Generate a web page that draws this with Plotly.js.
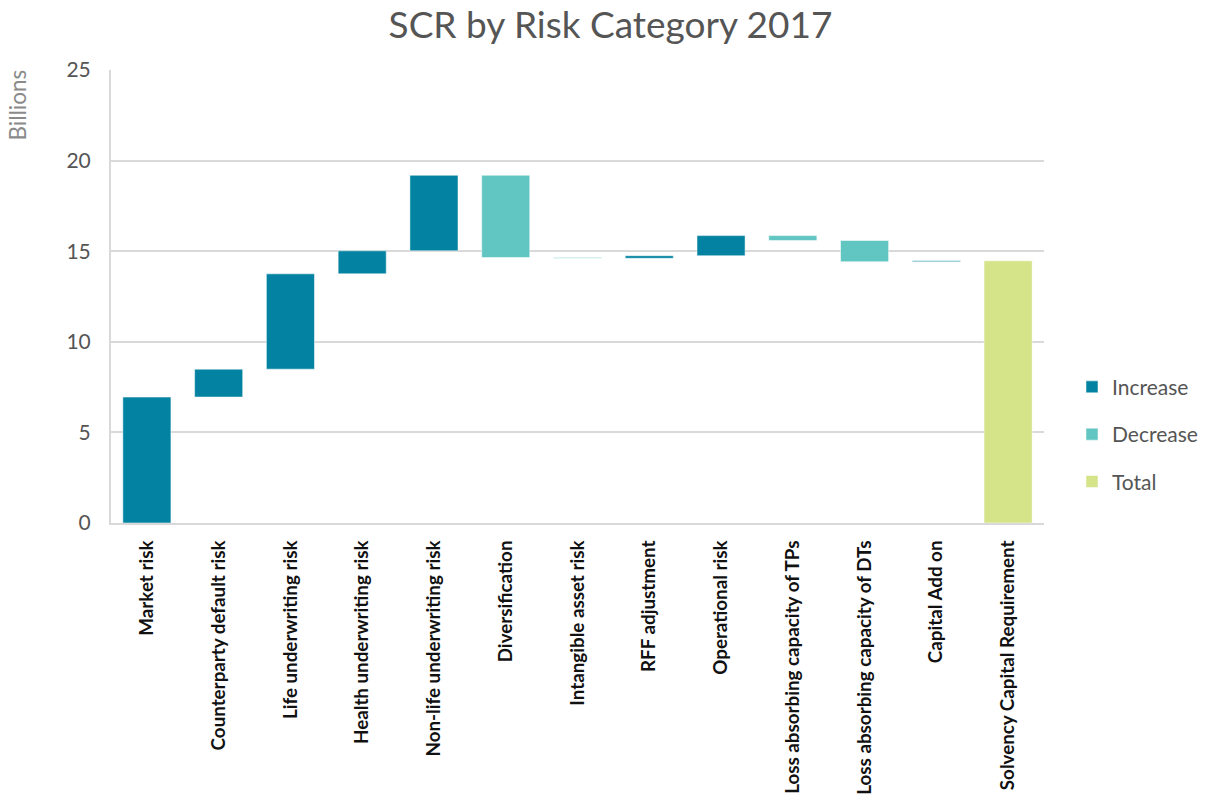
<!DOCTYPE html>
<html>
<head>
<meta charset="utf-8">
<script src="https://cdn.plot.ly/plotly-3.0.1.min.js"></script>
<style>html,body{margin:0;padding:0;background:#fff;}#chart{width:1221px;height:797px;}</style>
</head>
<body>
<div id="chart"></div>
<script>
const categories = ["Market risk","Counterparty default risk","Life underwriting risk","Health underwriting risk","Non-life underwriting risk","Diversification","Intangible asset risk","RFF adjustment","Operational risk","Loss absorbing capacity of TPs","Loss absorbing capacity of DTs","Capital Add on","Solvency Capital Requirement"];
const changes = [6.95, 1.54, 5.26, 1.27, 4.17, -4.54, -0.04, 0.14, 1.11, -0.27, -1.17, 0.05];
const totalLabel = "Solvency Capital Requirement";

// Build cumulative bases from the data
let run = 0;
const incX = [], incY = [], incBase = [];
const decX = [], decY = [], decBase = [];
changes.forEach((v, i) => {
  if (v >= 0) { incX.push(categories[i]); incY.push(v); incBase.push(run); }
  else { decX.push(categories[i]); decY.push(-v); decBase.push(run + v); }
  run += v;
});
const totalValue = [run];

const edge = {color: 'rgba(255,255,255,0.5)', width: 1};
const traces = [
  {type: 'bar', name: 'Increase', x: incX, y: incY, base: incBase, legendgroup: 'a', marker: {color: '#0383a1', line: edge}},
  {type: 'bar', name: 'Decrease', x: decX, y: decY, base: decBase, legendgroup: 'b', marker: {color: '#61c6c1', line: edge}},
  {type: 'bar', name: 'Total', x: [totalLabel], y: totalValue, base: [0], legendgroup: 'c', marker: {color: '#d5e389', line: edge}}
];

const layout = {
  width: 1221, height: 797,
  margin: {l: 111, r: 177, t: 70, b: 274},
  paper_bgcolor: '#ffffff', plot_bgcolor: '#ffffff',
  font: {family: 'Lato, "Open Sans", sans-serif', color: '#555555'},
  title: {text: 'SCR by Risk Category 2017', font: {size: 37, color: '#555555', family: 'Lato, sans-serif'}, x: 0.5, xanchor: 'center', y: 0.968, yanchor: 'middle'},
  barmode: 'overlay',
  bargap: 0.33,
  showlegend: true,
  legend: {x: 1.03, xanchor: 'left', y: 0.196, yanchor: 'middle', font: {size: 21, color: '#555555'}, traceorder: 'grouped', tracegroupgap: 17, bgcolor: 'rgba(0,0,0,0)'},
  xaxis: {
    type: 'category', categoryorder: 'array', categoryarray: categories,
    tickangle: -90, tickfont: {size: 18.8, color: '#111111', family: 'Lato, sans-serif', weight: 'bold'},
    showline: true, linecolor: '#d9d9d9', linewidth: 2, showgrid: false, ticks: '', ticklabelstandoff: 8, fixedrange: true
  },
  yaxis: {
    range: [0, 25], tickvals: [0, 5, 10, 15, 20, 25], ticktext: ['0','5','10','15','20','25'],
    tickfont: {size: 21, color: '#555555'}, showgrid: true, gridcolor: '#d9d9d9', gridwidth: 2,
    showline: true, linecolor: '#d9d9d9', linewidth: 2, zeroline: false, ticks: '', ticklabelstandoff: 14, fixedrange: true
  },
  annotations: [{
    text: 'Billions', xref: 'paper', yref: 'paper', x: -0.1, y: 0.923, textangle: -90,
    showarrow: false, font: {size: 22.5, color: '#8a8a8a'}, xanchor: 'center', yanchor: 'middle'
  }]
};

Plotly.newPlot('chart', traces, layout, {displayModeBar: false, staticPlot: true});
</script>
</body>
</html>
